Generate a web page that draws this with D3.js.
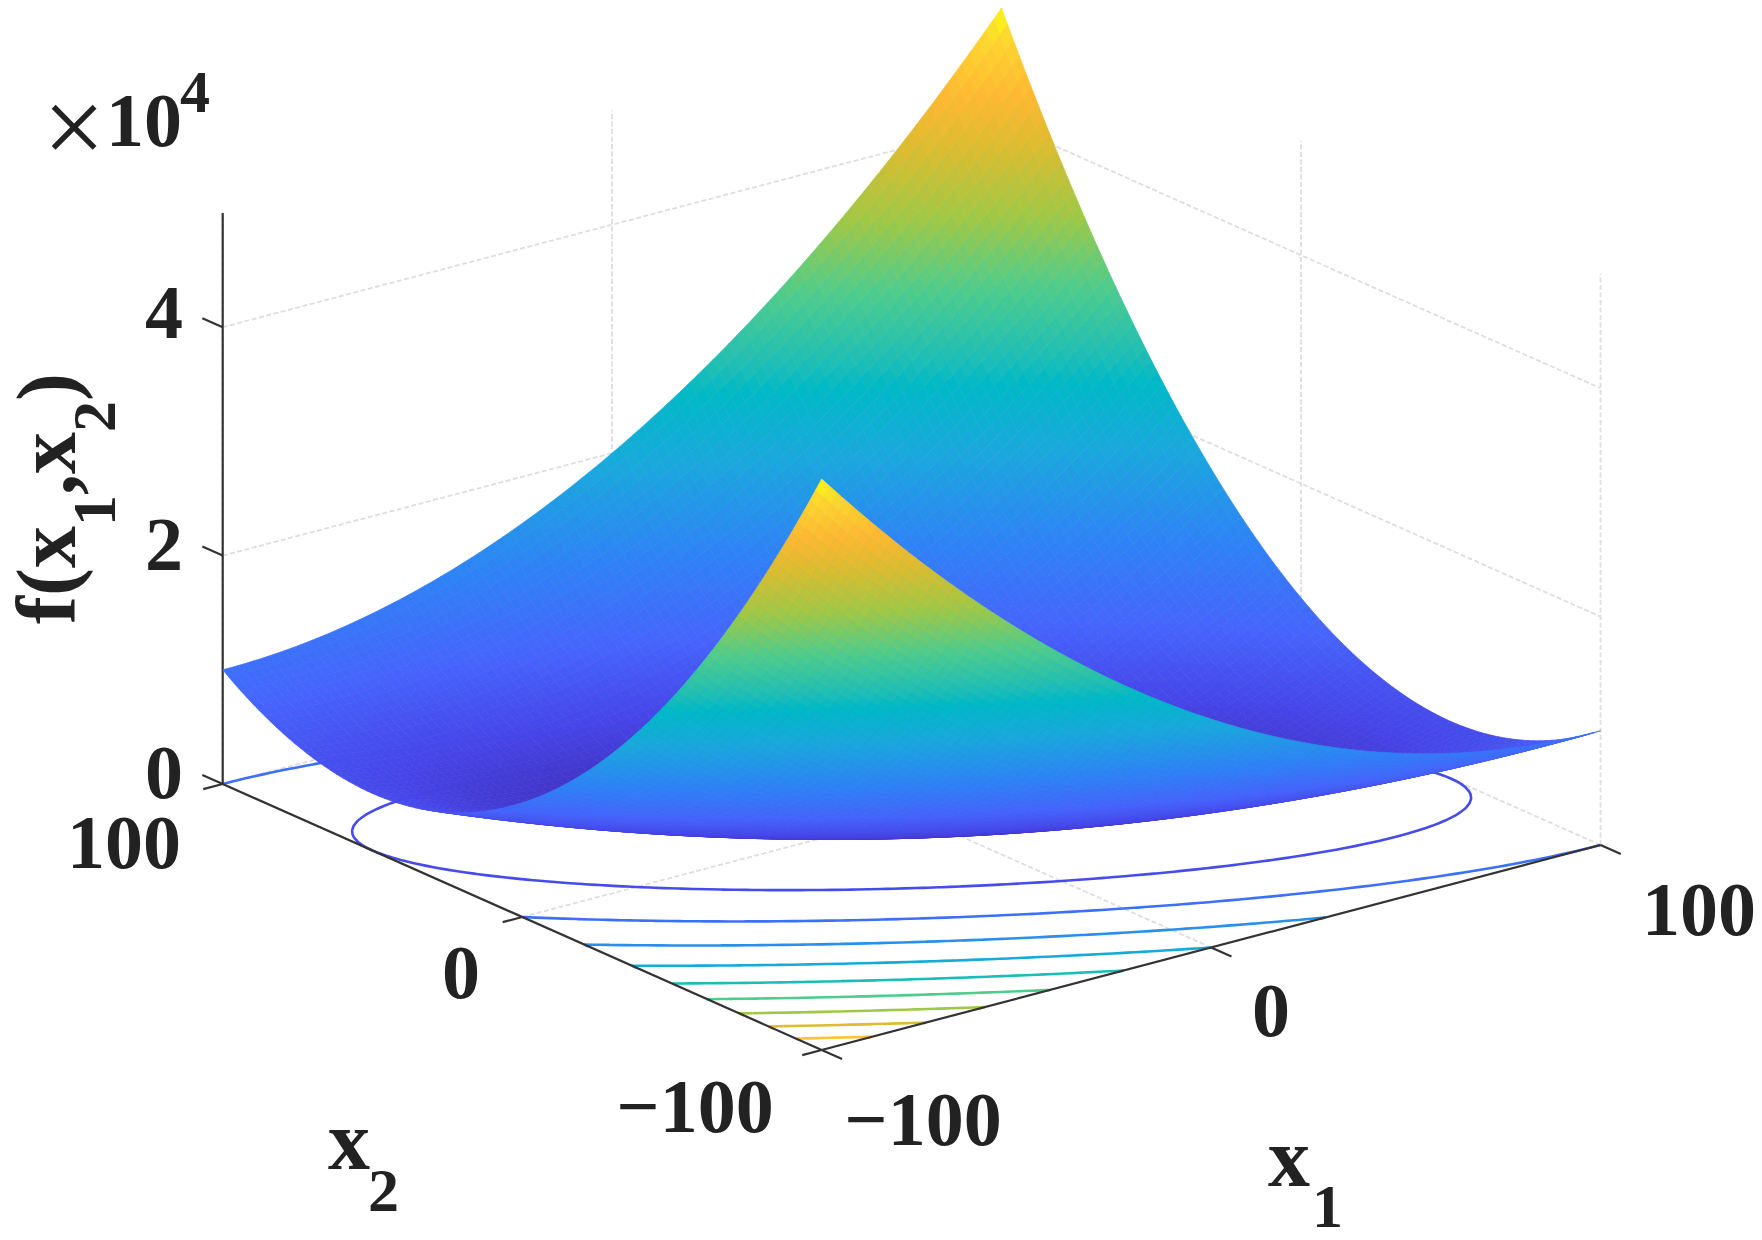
<!DOCTYPE html>
<html><head><meta charset="utf-8">
<script src="https://cdn.jsdelivr.net/npm/d3@7/dist/d3.min.js"></script>
<style>
html,body{margin:0;padding:0;background:#fff}
svg{display:block;filter:blur(.6px)}
text{font-family:"Liberation Serif","Times New Roman",serif;font-weight:bold;fill:#222}
</style></head><body>
<svg id="c" width="1762" height="1240"></svg>
<script>
// Axis ticks
const x1Ticks = [-100, 0, 100];
const x2Ticks = [-100, 0, 100];
const zTicks = [0, 2, 4];          // ×10^4
const zMax = 5;                    // top of the z axis, ×10^4
const contourLevels = [0.5, 1, 1.5, 2, 2.5, 3, 3.5, 4, 4.5]; // ×10^4

// Surface table: value of the squared term for |t| = 0, 2, 4, ... 200
const squareTable = [
0,4,16,36,64,100,144,196,256,324,400,484,576,676,784,900,1024,1156,1296,1444,1600,
1764,1936,2116,2304,2500,2704,2916,3136,3364,3600,3844,4096,4356,4624,4900,5184,5476,5776,6084,6400,
6724,7056,7396,7744,8100,8464,8836,9216,9604,10000,10404,10816,11236,11664,12100,12544,12996,13456,13924,14400,
14884,15376,15876,16384,16900,17424,17956,18496,19044,19600,20164,20736,21316,21904,22500,23104,23716,24336,24964,25600,
26244,26896,27556,28224,28900,29584,30276,30976,31684,32400,33124,33856,34596,35344,36100,36864,37636,38416,39204,40000];

// Colour map stops (position in z range → colour)
const cmapPos = [0, 0.08, 0.16, 0.26, 0.38, 0.47, 0.5, 0.6, 0.7, 0.8, 0.87, 0.95, 1];
const cmapCol = ["#3e26a8", "#4644e6", "#4664fb", "#2f82f6", "#1aa8dc", "#00b9c6", "#1bbdb8", "#4fcc8c", "#a0c846", "#dcbc30", "#fdb832", "#fdd530", "#f9fb15"];

const N = 101, STEP = 2;
const gridX = d3.range(N).map(i => -100 + i * STEP);
const lookup = t => squareTable[Math.abs(t) / STEP];
// z in ×10^4 at grid indices (i: x1, j: x2)
const Z = (i, j) => (lookup(gridX[j]) + lookup(gridX[i] + gridX[j])) / 1e4;

const color = d3.scaleLinear().domain(cmapPos.map(p => p * zMax)).range(cmapCol).interpolate(d3.interpolateRgb).clamp(true);

// Orthographic axonometric projection (pixels of the picture)
const cam = {cx: 911.6, cy: 814.5, ux1: 389.4, vx1: -102.5, ux2: -299.5, vx2: -133, h: 571};
const px = (a, b, z = 0) => cam.cx + a / 100 * cam.ux1 + b / 100 * cam.ux2;
const py = (a, b, z = 0) => cam.cy + a / 100 * cam.vx1 + b / 100 * cam.vx2 - z / zMax * cam.h;
const P = (a, b, z = 0) => [px(a, b, z), py(a, b, z)];

const svg = d3.select("#c");
const line = d3.line();
const gGrid = svg.append("g").attr("fill", "none").attr("stroke", "#dedede").attr("stroke-width", 1.8).attr("stroke-dasharray", "5 2.5");
const gridSegs = [];
zTicks.filter(z => z > 0).forEach(z => {
  gridSegs.push([P(-100, 100, z), P(100, 100, z)]);
  gridSegs.push([P(100, 100, z), P(100, -100, z)]);
});
x1Ticks.forEach(a => gridSegs.push([P(a, 100, 0), P(a, 100, zMax)]));
x2Ticks.forEach(b => gridSegs.push([P(100, b, 0), P(100, b, zMax)]));
x1Ticks.forEach(a => gridSegs.push([P(a, -100), P(a, 100)]));
x2Ticks.forEach(b => gridSegs.push([P(-100, b), P(100, b)]));
gGrid.selectAll("path").data(gridSegs).join("path").attr("d", line);

// Base contours
const values = new Float64Array(N * N);
for (let j = 0; j < N; j++) for (let i = 0; i < N; i++) values[i + j * N] = Z(i, j);
const contours = d3.contours().size([N, N]).smooth(true).thresholds(contourLevels)(values);
const onEdge = p => p[0] <= 0 || p[0] >= N || p[1] <= 0 || p[1] >= N;
const toData = p => {
  const gi = Math.max(0, Math.min(N - 1, p[0] - 0.5)), gj = Math.max(0, Math.min(N - 1, p[1] - 0.5));
  return P(-100 + gi * STEP, -100 + gj * STEP);
};
const gCont = svg.append("g").attr("fill", "none").attr("stroke-width", 2.6);
contours.forEach(c => {
  const pieces = [];
  c.coordinates.forEach(poly => poly.forEach(ring => {
    let cur = [];
    ring.forEach((p, k) => {
      if (k > 0 && onEdge(p) && onEdge(ring[k - 1])) {
        if (cur.length > 1) pieces.push(cur);
        cur = [toData(p)];
      } else cur.push(toData(p));
    });
    if (cur.length > 1) pieces.push(cur);
  }));
  gCont.append("g").attr("stroke", color(c.value)).selectAll("path").data(pieces).join("path").attr("d", line);
});

// Axis lines and ticks
const gAxis = svg.append("g").attr("fill", "none").attr("stroke", "#333").attr("stroke-width", 2.2);
const axisSegs = [
  [P(-100, 100, 0), P(-100, 100, zMax)],
  [P(-100, 100, 0), P(-100, -100, 0)],
  [P(-100, -100, 0), P(100, -100, 0)]
];
const tl = 6.8, tl2 = 5;
x1Ticks.forEach(a => axisSegs.push([P(a, -100), P(a, -100 - tl)]));
x2Ticks.forEach(b => axisSegs.push([P(-100, b), P(-100 - tl2, b)]));
zTicks.forEach(z => axisSegs.push([P(-100, 100, z), P(-100, 100 + tl, z)]));
gAxis.selectAll("path").data(axisSegs).join("path").attr("d", line);

// Surface, painter's order back → front
const cells = [];
for (let j = 0; j < N - 1; j++) for (let i = 0; i < N - 1; i++) cells.push([i, j]);
const depth = ([i, j]) => gridX[i] * 263.5 + gridX[j] * 350;
cells.sort((a, b) => d3.descending(depth(a), depth(b)));
svg.append("g").selectAll("path").data(cells).join("path").attr("d", ([i, j]) => {
  const pts = [[i, j], [i + 1, j], [i + 1, j + 1], [i, j + 1]].map(([m, n]) => P(gridX[m], gridX[n], Z(m, n)));
  return line(pts) + "Z";
}).each(function ([i, j]) {
  const z = (Z(i, j) + Z(i + 1, j) + Z(i + 1, j + 1) + Z(i, j + 1)) / 4;
  const col = color(z);
  d3.select(this).attr("fill", col).attr("stroke", col).attr("stroke-width", 0.7);
});

// Tick labels
const fs = 76;
const label = (txt, x, y, size = fs, anchor = "middle") => svg.append("text").attr("x", x).attr("y", y).attr("font-size", size).attr("text-anchor", anchor).text(txt);
const fmt = v => (v < 0 ? "\u2212" : "") + Math.abs(v);
const zLabelPos = [[164, 798], [164, 570], [164, 338]];
zTicks.forEach((z, k) => label(String(z), zLabelPos[k][0], zLabelPos[k][1]));
const x2LabelPos = [[695, 1132], [461, 998], [124, 868]];
x2Ticks.forEach((v, k) => label(fmt(v), x2LabelPos[k][0], x2LabelPos[k][1]));
const x1LabelPos = [[923, 1145], [1271, 1036], [1699, 935]];
x1Ticks.forEach((v, k) => label(fmt(v), x1LabelPos[k][0], x1LabelPos[k][1]));

// ×10^4
svg.append("text").attr("x", 43).attr("y", 164).attr("font-size", 110).style("font-weight", "normal").text("\u00d7");
label("10", 106, 146, 76, "start");
label("4", 180, 112, 60, "start");

// Axis titles
label("x", 328, 1169, 84, "start");
label("2", 368, 1211, 62, "start");
label("x", 1268, 1186, 84, "start");
label("1", 1312, 1227, 62, "start");

const yl = svg.append("text").attr("transform", "translate(75,624) rotate(-90)").attr("font-size", 84);
yl.append("tspan").text("f(x");
yl.append("tspan").attr("dy", 40).attr("font-size", 62).text("1");
yl.append("tspan").attr("dy", -40).text(",x");
yl.append("tspan").attr("dy", 40).attr("font-size", 62).text("2");
yl.append("tspan").attr("dy", -40).text(")");
</script></body></html>
